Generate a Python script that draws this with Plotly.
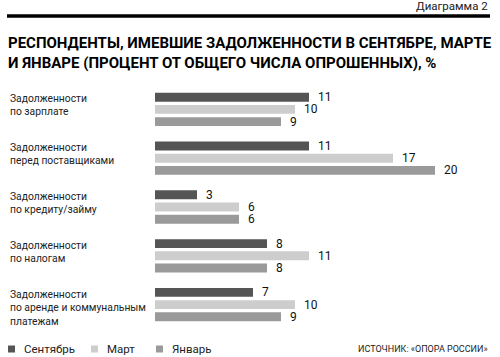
import plotly.graph_objects as go

categories = [
    "Задолженности<br>по зарплате",
    "Задолженности<br>перед поставщиками",
    "Задолженности<br>по кредиту/займу",
    "Задолженности<br>по налогам",
    "Задолженности<br>по аренде и коммунальным<br>платежам",
]
series_names = ["Сентябрь", "Март", "Январь"]
september = [11, 11, 3, 8, 7]
march = [10, 17, 6, 11, 10]
january = [9, 20, 6, 8, 9]
colors = ["#555555", "#cdcdcd", "#9a9a9a"]

title = "РЕСПОНДЕНТЫ, ИМЕВШИЕ ЗАДОЛЖЕННОСТИ В СЕНТЯБРЕ, МАРТЕ<br>И ЯНВАРЕ (ПРОЦЕНТ ОТ ОБЩЕГО ЧИСЛА ОПРОШЕННЫХ), %"
diagram_label = "Диаграмма 2"
source = "ИСТОЧНИК: «ОПОРА РОССИИ»"

FONT = "Roboto"

def f(size, color="#222", weight="normal"):
    return dict(family=FONT, size=size, color=color, weight=weight)

W, H = 500, 357
ML, MR, MT, MB = 155, 9, 85, 28
pw = W - ML - MR
ph = H - MT - MB

fig = go.Figure()
for name, vals, col in zip(series_names, [september, march, january], colors):
    fig.add_trace(go.Bar(
        y=categories, x=vals, name=name, orientation="h",
        marker=dict(color=col, line=dict(width=0)),
        text=vals, texttemplate="  %{x}", textposition="outside",
        textfont=f(12, "#111"), constraintext="none",
        cliponaxis=False, showlegend=False,
    ))

def px_x(p):
    return (p - ML) / pw

def px_y(p):
    return 1 - (p - MT) / ph

annotations = []
for c in categories:
    annotations.append(dict(
        x=px_x(8), xref="paper", y=c, yref="y", yanchor="top", xanchor="left",
        yshift=19, text=c, showarrow=False, align="left", font=f(10.3),
    ))

annotations.append(dict(
    x=px_x(490), xref="paper", y=px_y(6), yref="paper", xanchor="right", yanchor="middle",
    text=diagram_label, showarrow=False, font=f(11.5),
))
annotations.append(dict(
    x=px_x(6), xref="paper", y=px_y(53), yref="paper", xanchor="left", yanchor="middle",
    text="<b>" + title + "</b>", showarrow=False, align="left",
    font=f(15, "#000", "bold"),
))
annotations.append(dict(
    x=px_x(490), xref="paper", y=px_y(349), yref="paper", xanchor="right", yanchor="middle",
    text=source, showarrow=False, font=f(9),
))

shapes = [dict(type="line", xref="paper", yref="paper", x0=px_x(7), x1=px_x(490),
               y0=px_y(16), y1=px_y(16), line=dict(color="#000", width=3.5))]

leg_x = [8, 91, 156]
for lx, name, col in zip(leg_x, series_names, colors):
    shapes.append(dict(type="rect", xref="paper", yref="paper",
                       x0=px_x(lx), x1=px_x(lx + 7), y0=px_y(345.5), y1=px_y(352.5),
                       fillcolor=col, line=dict(width=0)))
    annotations.append(dict(
        x=px_x(lx + 14), xref="paper", y=px_y(349), yref="paper", xanchor="left", yanchor="middle",
        text=name, showarrow=False, font=f(11.5),
    ))

fig.update_layout(
    width=W, height=H,
    margin=dict(l=ML, r=MR, t=MT, b=MB),
    paper_bgcolor="white", plot_bgcolor="white",
    barmode="group", bargap=0.25, bargroupgap=0.27,
    xaxis=dict(range=[0, 24], visible=False, fixedrange=True),
    yaxis=dict(autorange="reversed", showticklabels=False, showgrid=False,
               zeroline=False, showline=False, ticks="", fixedrange=True),
    annotations=annotations, shapes=shapes,
    showlegend=False,
)

fig.write_html("out.html", post_script="document.body.style.margin='0';",
               config={"displayModeBar": False})
